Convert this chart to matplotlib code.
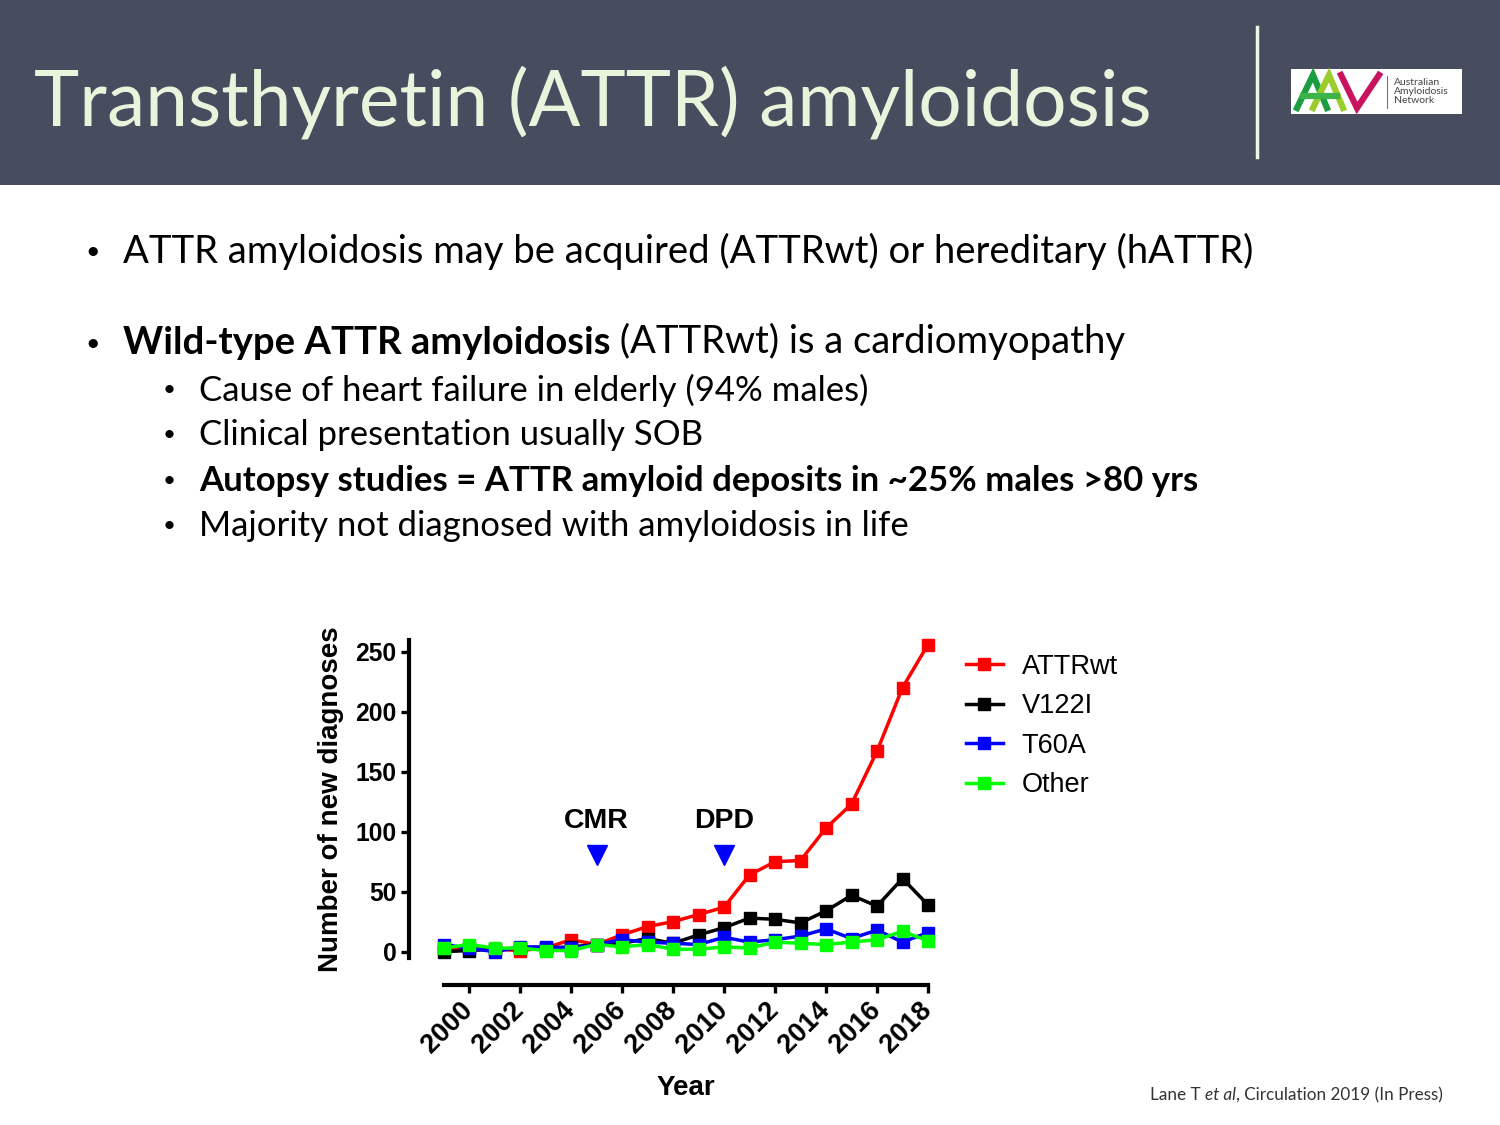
import numpy as np
import matplotlib.pyplot as plt
from matplotlib.patches import Rectangle
from matplotlib.lines import Line2D

# data
years = list(range(1999, 2019))
attrwt = [2, 3, 2, 1, 3, 10, 6, 14, 21, 25, 31, 37, 64, 75, 76, 103, 123, 167, 220, 256]
v122i = [0, 1, 2, 3, 3, 4, 6, 7, 11, 7, 14, 20, 28, 27, 24, 34, 47, 38, 61, 39]
t60a = [6, 3, 0, 4, 4, 3, 6, 10, 8, 7, 6, 12, 8, 10, 13, 19, 11, 18, 8, 16]
other = [3, 6, 3, 3, 1, 1, 6, 4, 6, 2, 2, 4, 3, 8, 7, 6, 8, 10, 17, 9]
series_names = ['ATTRwt', 'V122I', 'T60A', 'Other']
series_colors = ['#ff0000', '#000000', '#0000ff', '#00ff00']
event_labels = ['CMR', 'DPD']
event_years = [2005, 2010]
event_level = 81
xtick_years = list(range(2000, 2019, 2))
yticks = [0, 50, 100, 150, 200, 250]

title = 'Transthyretin (ATTR) amyloidosis'
bullet1 = 'ATTR amyloidosis may be acquired (ATTRwt) or hereditary (hATTR)'
bullet2_bold = 'Wild-type ATTR amyloidosis'
bullet2_rest = ' (ATTRwt) is a cardiomyopathy'
sub_bullets = ['Cause of heart failure in elderly (94% males)',
               'Clinical presentation usually SOB',
               'Autopsy studies = ATTR amyloid deposits in ~25% males >80 yrs',
               'Majority not diagnosed with amyloidosis in life']
sub_bold = [False, False, True, False]

W, H = 1500, 1125
SLIDE_FONT = ['Lato', 'DejaVu Sans']
CHART_FONT = ['Liberation Sans', 'DejaVu Sans']


def fx(px):
    return px / W


def fy(py):
    return 1 - py / H


fig = plt.figure(figsize=(15, 11.25), dpi=100)
fig.patch.set_facecolor('white')

# header band
fig.patches.append(Rectangle((0, fy(185)), 1, 185 / H, transform=fig.transFigure,
                             facecolor='#474d5f', edgecolor='none', zorder=0))
fig.text(fx(34), fy(103), title, fontsize=55.3, color='#e8f5dc', family=SLIDE_FONT,
         va='center', ha='left')
fig.lines.append(Line2D([fx(1257), fx(1257)], [fy(27), fy(157)], transform=fig.transFigure,
                        color='#eef7e6', lw=2.5))

# logo box (drawn as strokes, not text)
fig.patches.append(Rectangle((fx(1291), fy(114)), 171 / W, 45 / H, transform=fig.transFigure,
                             facecolor='white', edgecolor='none', zorder=1))
logo_strokes = [([1297, 1313, 1327], [108, 75, 108], '#1a9e3f'),
                ([1313, 1329, 1343], [108, 75, 108], '#9ccc2c'),
                ([1341, 1357, 1379], [75, 108, 75], '#c8145e'),
                ([1303, 1337], [96, 96], '#3bb54a')]
for xs, ys, c in logo_strokes:
    fig.lines.append(Line2D([fx(v) for v in xs], [fy(v) for v in ys],
                            transform=fig.transFigure, color=c, lw=4.5, zorder=2,
                            solid_joinstyle='miter'))
fig.lines.append(Line2D([fx(1387), fx(1387)], [fy(76), fy(108)], transform=fig.transFigure,
                        color='#777777', lw=0.8, zorder=2))
fig.text(fx(1394), fy(91.5), 'Australian\nAmyloidosis\nNetwork', fontsize=7.5, color='#444444',
         family=SLIDE_FONT, va='center', ha='left', linespacing=1.0, zorder=2)

# bullets
fig.text(fx(93), fy(251), '•', fontsize=18, family=SLIDE_FONT, va='center', ha='center')
fig.text(fx(123), fy(251), bullet1, fontsize=27.5, family=SLIDE_FONT, va='center')
fig.text(fx(93), fy(343), '•', fontsize=18, family=SLIDE_FONT, va='center', ha='center')
t_bold = fig.text(fx(123), fy(343), bullet2_bold, fontsize=27.5, fontweight='bold',
                  family=SLIDE_FONT, va='center')
for i, (txt, b) in enumerate(zip(sub_bullets, sub_bold)):
    yy = 390 + i * 45.3
    fig.text(fx(169), fy(yy), '•', fontsize=16, family=SLIDE_FONT, va='center', ha='center')
    fig.text(fx(199), fy(yy), txt, fontsize=25, family=SLIDE_FONT, va='center',
             fontweight='bold' if b else 'normal')

# chart
ax = fig.add_axes([fx(443.5), fy(957.7), (928 - 443.5) / W, (957.7 - 639.7) / H])
ax.annotate(bullet2_rest, xy=(1, 0), xycoords=t_bold, va='bottom', ha='left',
            fontsize=27.5, family=SLIDE_FONT, annotation_clip=False)
for vals, name, col in zip([attrwt, v122i, t60a, other], series_names, series_colors):
    ax.plot(years, vals, color=col, lw=2.5, marker='s', markersize=8.5, label=name,
            clip_on=False)
for lab, yr in zip(event_labels, event_years):
    ax.plot(yr, event_level, marker='v', color='#0000ff', markersize=15, ls='none',
            clip_on=False)
    ax.text(yr, event_level + 17, lab, ha='center', va='bottom', fontsize=20.5,
            fontweight='bold', family=CHART_FONT)

ax.set_xlim(1999, 2018)
ax.set_ylim(-5, 260)
ax.spines['top'].set_visible(False)
ax.spines['right'].set_visible(False)
ax.spines['left'].set_position(('outward', 24.8))
ax.spines['bottom'].set_position(('outward', 19.7))
for s in ['left', 'bottom']:
    ax.spines[s].set_linewidth(3)
ax.tick_params(axis='both', width=2.4, length=6, direction='out', pad=3)
ax.tick_params(axis='x', pad=9)
ax.set_xticks(xtick_years)
ax.set_xticklabels([str(y) for y in xtick_years])
ax.set_yticks(yticks)
ax.set_yticklabels([str(v) for v in yticks])
for lab in ax.get_xticklabels():
    lab.set(rotation=45, ha='right', va='center', rotation_mode='anchor',
            fontsize=19.5, fontweight='bold', family=CHART_FONT)
for lab in ax.get_yticklabels():
    lab.set(fontsize=17.7, fontweight='bold', family=CHART_FONT)
ax.set_facecolor('none')
ax.set_ylabel('Number of new diagnoses', fontsize=20, fontweight='bold', family=CHART_FONT,
              labelpad=8)
ax.set_xlabel('Year', fontsize=20, fontweight='bold', family=CHART_FONT, labelpad=12)

fig.legend(loc='upper left', bbox_to_anchor=(fx(952), fy(640)), frameon=False,
           prop={'family': CHART_FONT, 'size': 19.5}, handlelength=1.37, handletextpad=0.7,
           labelspacing=0.5, borderpad=0)

# citation
t_cit = fig.text(fx(1150), fy(1095), 'Lane T ', fontsize=12.3, color='#333333',
                 family=SLIDE_FONT, va='center')
ann_it = ax.annotate('et al', xy=(1, 0), xycoords=t_cit, va='bottom', fontsize=12.3,
                     style='italic', color='#333333', family=SLIDE_FONT, annotation_clip=False)
ax.annotate(', Circulation 2019 (In Press)', xy=(1, 0), xycoords=ann_it, va='bottom',
            fontsize=12.3, color='#333333', family=SLIDE_FONT, annotation_clip=False)

fig.savefig('out.png', dpi=100)
